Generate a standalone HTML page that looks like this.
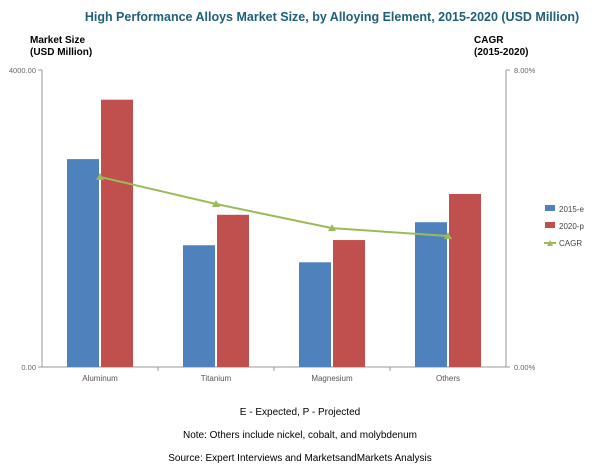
<!DOCTYPE html>
<html><head><meta charset="utf-8"><style>
body{margin:0;background:#fff;font-family:"Liberation Sans",sans-serif}
svg text{font-family:"Liberation Sans",sans-serif}
</style></head><body>
<svg width="600" height="469" xmlns="http://www.w3.org/2000/svg">
<text x="332" y="21" text-anchor="middle" font-size="12.5" font-weight="bold" fill="#1f5f7a">High Performance Alloys Market Size, by Alloying Element, 2015-2020  (USD Million)</text>
<text x="30" y="43" font-size="10" font-weight="bold" fill="#000"><tspan x="30">Market Size</tspan><tspan x="30" dy="12">(USD Million)</tspan></text>
<text x="474" y="43" font-size="10" font-weight="bold" fill="#000"><tspan x="474">CAGR</tspan><tspan x="474" dy="12">(2015-2020)</tspan></text>
<g id="axes"></g>
<g id="bars"></g>
<g id="line"></g>
<g>
<rect x="545" y="205" width="10" height="6" fill="#4f81bd"/>
<text x="559" y="212" font-size="8" fill="#444">2015-e</text>
<rect x="545" y="222" width="10" height="6" fill="#c0504d"/>
<text x="559" y="229" font-size="8" fill="#444">2020-p</text>
<line x1="544" y1="243" x2="556" y2="243" stroke="#9bbb59" stroke-width="2"/>
<path d="M547 246 L550 240 L553 246Z" fill="#9bbb59"/>
<text x="559" y="246" font-size="8" fill="#444">CAGR</text>
</g>
<text x="300" y="415" text-anchor="middle" font-size="10" fill="#000">E - Expected, P - Projected</text>
<text x="300" y="438" text-anchor="middle" font-size="10" fill="#000">Note: Others include nickel, cobalt, and molybdenum</text>
<text x="300" y="461" text-anchor="middle" font-size="10" fill="#000">Source: Expert Interviews and MarketsandMarkets Analysis</text>
</svg>
<script>
const categories=["Aluminum","Titanium","Magnesium","Others"];
const values2015=[2800,1640,1410,1950];
const values2020=[3600,2050,1710,2330];
const cagr=[5.12,4.39,3.74,3.53];
const leftTicks=["0.00","4000.00"];
const rightTicks=["0.00%","8.00%"];
const NS="http://www.w3.org/2000/svg";
const L=42,R=506,T=70,B=367;
const bw=(R-L)/categories.length;
const y=v=>B-(v/4000)*(B-T);
const y2=v=>B-(v/8)*(B-T);
const xc=i=>L+bw*(i+0.5);
function mk(tag,attrs,parent){const e=document.createElementNS(NS,tag);for(const k in attrs)e.setAttribute(k,attrs[k]);parent.appendChild(e);return e;}
const ax=document.getElementById('axes');
let e=mk('line',{x1:L,y1:T,x2:L,y2:B,stroke:'#999'},ax);


e=mk('line',{x1:R,y1:T,x2:R,y2:B,stroke:'#999'},ax);


e=mk('line',{x1:L,y1:B,x2:R,y2:B,stroke:'#999'},ax);


[0,4000].forEach((v,i)=>{
 mk('line',{x1:L-4,y1:y(v),x2:L,y2:y(v),stroke:'#999'},ax);
 const t=mk('text',{x:L-6,y:y(v)+3,'text-anchor':'end','font-size':'7.5',fill:'#666'},ax);t.textContent=leftTicks[i];
 
 
});
[0,8].forEach((v,i)=>{
 mk('line',{x1:R,y1:y2(v),x2:R+4,y2:y2(v),stroke:'#999'},ax);
 const t=mk('text',{x:R+8,y:y2(v)+3,'font-size':'7.5',fill:'#666'},ax);t.textContent=rightTicks[i];
 
 
});
for(let i=1;i<categories.length;i++)mk('line',{x1:L+bw*i,y1:B,x2:L+bw*i,y2:B+4,stroke:'#999'},ax);
const bg=document.getElementById('bars');
categories.forEach((c,i)=>{
 const w=32;
 let r=mk('rect',{x:xc(i)-w-1,y:y(values2015[i]),width:w,height:B-y(values2015[i]),fill:'#4f81bd'},bg);
 
 
 r=mk('rect',{x:xc(i)+1,y:y(values2020[i]),width:w,height:B-y(values2020[i]),fill:'#c0504d'},bg);
 
 
 const t=mk('text',{x:xc(i),y:B+14,'text-anchor':'middle','font-size':'8',fill:'#555'},bg);t.textContent=c;
 
 
});
const lg=document.getElementById('line');
const p=mk('polyline',{points:cagr.map((v,i)=>xc(i)+','+y2(v)).join(' '),fill:'none',stroke:'#9bbb59','stroke-width':2},lg);


cagr.forEach((v,i)=>{
 const m=mk('path',{d:`M${xc(i)-4} ${y2(v)+3} L${xc(i)} ${y2(v)-4} L${xc(i)+4} ${y2(v)+3}Z`,fill:'#9bbb59'},lg);
 
 
});
</script>
</body></html>
